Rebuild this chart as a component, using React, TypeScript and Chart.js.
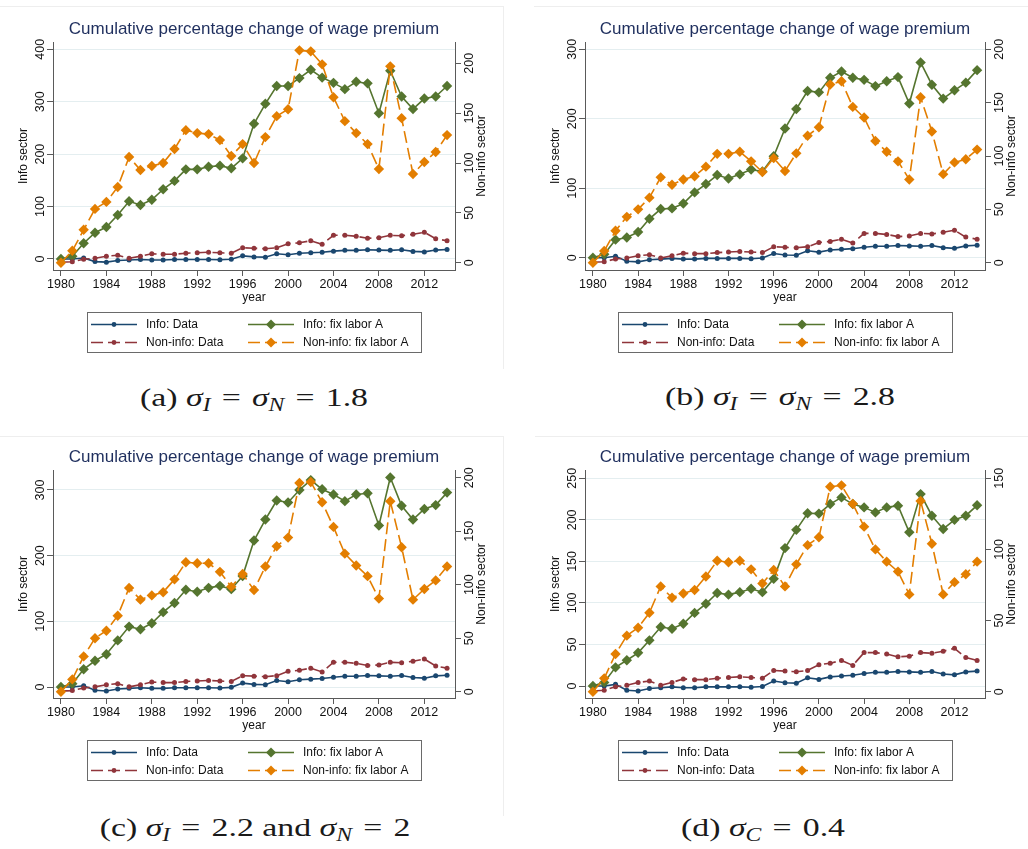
import React, { useEffect, useRef } from 'react';
import { Chart, registerables } from 'chart.js';

Chart.register(...registerables);

// ---------- data ----------
const years = [
  1980, 1981, 1982, 1983, 1984, 1985, 1986, 1987, 1988, 1989,
  1990, 1991, 1992, 1993, 1994, 1995, 1996, 1997, 1998, 1999,
  2000, 2001, 2002, 2003, 2004, 2005, 2006, 2007, 2008, 2009,
  2010, 2011, 2012, 2013, 2014,
];
const xTicks = [1980, 1984, 1988, 1992, 1996, 2000, 2004, 2008, 2012];

const infoData = [0, 0, 2, -5, -6, -3, -2, -1, -2, -2, -1, -1, -1, -1, -1.5, -0.5, 6, 4, 3.5, 10, 8, 11, 12, 13, 15, 16.5, 16.5, 17.5, 17, 16.5, 17.5, 14.5, 13.5, 17, 18];
const nonInfoData = [0.5, 1, 3.5, 4.5, 6.5, 7.5, 4.5, 6.5, 9, 8.5, 8.5, 9.5, 10, 10.5, 10, 9.5, 15, 14.5, 14, 15, 19, 20, 22, 18.5, 27.5, 27.5, 26.5, 24.5, 25, 27.5, 27, 28.5, 30.5, 24, 22];

const infoFixA_a = [0, 5, 30, 50, 61, 84, 110, 103, 113, 133, 149, 171, 171, 176, 178, 173, 192, 258, 296, 330, 330, 345, 361, 346, 336, 324, 338, 335, 278, 359, 310, 286, 306, 310, 330];
const nonInfoFixA_a = [0, 12, 33, 54, 61, 76, 106, 93, 97, 100, 114, 133, 130, 129, 123, 107, 119, 100, 126, 147, 154, 213, 212, 199, 166, 142, 130, 119, 94, 197, 145, 89, 101, 111, 128];

const infoFixA_b = [0, 5, 26, 29, 37, 56, 70, 71, 78, 94, 106, 119, 114, 120, 127, 124, 146, 186, 214, 240, 238, 259, 268, 259, 256, 247, 254, 260, 222, 281, 249, 229, 241, 252, 270];
const nonInfoFixA_b = [0, 11, 30, 43, 50, 61, 80, 73, 78, 81, 90, 102, 102, 104, 95, 85, 98, 86, 102.5, 119, 127, 167, 170, 146, 136, 114, 104, 95, 78, 155, 123, 83, 94, 97, 106];

const infoFixA_c = [0, 5, 27, 40, 50, 71, 92, 88, 97, 114, 128, 148, 145, 151, 154, 149, 169, 223, 255, 284, 281, 300, 315, 301, 293, 283, 293, 295, 246, 319, 276, 255, 271, 277, 296];
const nonInfoFixA_c = [0, 11.5, 33, 50, 57, 71, 97, 86, 90, 93, 105, 121, 120, 120, 112, 98, 110, 95, 117, 136, 144, 195, 196, 177, 154, 129, 118, 108, 87, 178, 135, 86, 96, 104, 117];

const infoFixA_d = [0, 4.4, 22.5, 31, 40, 55, 71, 69, 75, 88, 99, 112, 110, 113, 117, 113, 129, 166, 188, 208, 207.5, 219, 227, 219, 215, 209, 215, 217, 185, 231, 205, 189, 200, 205, 217.5];
const nonInfoFixA_d = [0, 9.4, 26.5, 39.4, 45, 55.5, 74, 66, 69, 71.5, 81, 92, 91, 92, 86, 76, 85.5, 74, 89.5, 103, 108.5, 144, 145, 132, 116, 100, 91.4, 84.4, 68.4, 134, 104, 68.4, 77, 82.5, 91.4];

const leftTicks_a = [0, 100, 200, 300, 400];
const rightTicks_a = [0, 50, 100, 150, 200];
const leftTicks_b = [0, 100, 200, 300];
const rightTicks_b = [0, 50, 100, 150, 200];
const leftTicks_c = [0, 100, 200, 300];
const rightTicks_c = [0, 50, 100, 150, 200];
const leftTicks_d = [0, 50, 100, 150, 200, 250];
const rightTicks_d = [0, 50, 100, 150];

const seriesLabels = ['Info: Data', 'Info: fix labor A', 'Non-info: Data', 'Non-info: fix labor A'];
const titleText = 'Cumulative percentage change of wage premium';
const leftTitle = 'Info sector';
const rightTitle = 'Non-info sector';
const xTitle = 'year';

// ---------- styles ----------
const SANS = '"Liberation Sans", Arial, sans-serif';
const BLUE = '#1a476f';
const RED = '#90353b';
const GREEN = '#55752f';
const ORANGE = '#e37e00';
const AXIS = '#5a5a5a';
const GRID = '#e4eef0';
const DASH = [12, 5];

type PanelProps = {
  left: number;
  top: number;
  plotLeft: number;
  plotRight: number;
  fixInfo: number[];
  fixNonInfo: number[];
  leftRange: [number, number];
  rightRange: [number, number];
  leftTicks: number[];
  rightTicks: number[];
};

const W = 514;
const H = 370;
const PLOT_TOP = 42;
const PLOT_BOTTOM = 270;
const XAXIS_H = 20;

function toPts(vals: number[]) {
  return years.map((y, i) => ({ x: y, y: vals[i] }));
}

function Panel(p: PanelProps) {
  const ref = useRef<HTMLCanvasElement | null>(null);
  useEffect(() => {
    const canvas = ref.current;
    if (!canvas) return;

    const overlay = {
      id: 'overlay',
      afterDraw(chart: any) {
        const ctx = chart.ctx as CanvasRenderingContext2D;
        const ca = chart.chartArea;
        const cx = (ca.left + ca.right) / 2;
        ctx.save();
        // title
        ctx.fillStyle = '#1f2f5e';
        ctx.font = `17px ${SANS}`;
        ctx.textAlign = 'center';
        ctx.textBaseline = 'middle';
        ctx.fillText(titleText, cx, 29.5);

        // y tick labels (rotated)
        ctx.fillStyle = '#111';
        ctx.font = `12.5px ${SANS}`;
        const yl = chart.scales.yL;
        const yr = chart.scales.yR;
        for (const t of yl.ticks) {
          const y = yl.getPixelForValue(t.value);
          ctx.save();
          ctx.translate(ca.left - 12.5, y);
          ctx.rotate(-Math.PI / 2);
          ctx.fillText(String(t.value), 0, 0);
          ctx.restore();
        }
        for (const t of yr.ticks) {
          const y = yr.getPixelForValue(t.value);
          ctx.save();
          ctx.translate(ca.right + 15, y);
          ctx.rotate(-Math.PI / 2);
          ctx.fillText(String(t.value), 0, 0);
          ctx.restore();
        }
        // axis titles
        ctx.font = `12px ${SANS}`;
        const cy = (ca.top + ca.bottom) / 2;
        ctx.save();
        ctx.translate(ca.left - 29, cy);
        ctx.rotate(-Math.PI / 2);
        ctx.fillText(leftTitle, 0, 0);
        ctx.restore();
        ctx.save();
        ctx.translate(ca.right + 27, cy);
        ctx.rotate(-Math.PI / 2);
        ctx.fillText(rightTitle, 0, 0);
        ctx.restore();
        ctx.fillText(xTitle, cx, 297.5);

        // legend
        const bw = 334;
        const bh = 40;
        const bx = Math.round(cx - bw / 2);
        const by = 312;
        ctx.fillStyle = '#fff';
        ctx.fillRect(bx, by, bw, bh);
        ctx.strokeStyle = '#6a6a6a';
        ctx.lineWidth = 1;
        ctx.strokeRect(bx + 0.5, by + 0.5, bw, bh);
        const items = [
          { label: seriesLabels[0], color: BLUE, dash: [] as number[], diamond: false, col: 0, row: 0 },
          { label: seriesLabels[1], color: GREEN, dash: [] as number[], diamond: true, col: 1, row: 0 },
          { label: seriesLabels[2], color: RED, dash: DASH, diamond: false, col: 0, row: 1 },
          { label: seriesLabels[3], color: ORANGE, dash: DASH, diamond: true, col: 1, row: 1 },
        ];
        ctx.textAlign = 'left';
        ctx.font = `12px ${SANS}`;
        for (const it of items) {
          const x0 = bx + (it.col === 0 ? 4 : 161);
          const x1 = x0 + 46;
          const y = by + (it.row === 0 ? 12.5 : 30.5);
          ctx.strokeStyle = it.color;
          ctx.lineWidth = 1.6;
          ctx.setLineDash(it.dash);
          ctx.beginPath();
          ctx.moveTo(x0, y);
          ctx.lineTo(x1, y);
          ctx.stroke();
          ctx.setLineDash([]);
          const mx = (x0 + x1) / 2;
          ctx.fillStyle = it.color;
          ctx.beginPath();
          if (it.diamond) {
            const r = 5;
            ctx.moveTo(mx, y - r);
            ctx.lineTo(mx + r, y);
            ctx.lineTo(mx, y + r);
            ctx.lineTo(mx - r, y);
            ctx.closePath();
          } else {
            ctx.arc(mx, y, 2.4, 0, Math.PI * 2);
          }
          ctx.fill();
          ctx.fillStyle = '#111';
          ctx.fillText(it.label, x0 + 55, y + 0.5);
        }
        ctx.restore();
      },
    };

    const lineDs = (label: string, vals: number[], color: string, axis: string, dashed: boolean, diamond: boolean, order: number) => ({
      label,
      data: toPts(vals),
      yAxisID: axis,
      borderColor: color,
      backgroundColor: color,
      borderWidth: 1.6,
      borderDash: dashed ? DASH : [],
      pointStyle: diamond ? 'rectRot' : 'circle',
      pointRadius: diamond ? 5.2 : 2.5,
      pointBorderWidth: 0,
      pointBackgroundColor: color,
      pointBorderColor: color,
      tension: 0,
      clip: false as any,
      order,
    });

    const chart = new Chart(canvas, {
      type: 'line',
      data: {
        datasets: [
          lineDs(seriesLabels[0], infoData, BLUE, 'yL', false, false, 3),
          lineDs(seriesLabels[1], p.fixInfo, GREEN, 'yL', false, true, 2),
          lineDs(seriesLabels[2], nonInfoData, RED, 'yR', true, false, 1),
          lineDs(seriesLabels[3], p.fixNonInfo, ORANGE, 'yR', true, true, 0),
        ],
      },
      options: {
        animation: false,
        responsive: false,
        maintainAspectRatio: false,
        devicePixelRatio: 1,
        layout: { padding: { top: PLOT_TOP, bottom: H - PLOT_BOTTOM - XAXIS_H, left: 0, right: 0 } },
        plugins: {
          legend: { display: false },
          title: { display: false },
          tooltip: { enabled: false },
        },
        scales: {
          x: {
            type: 'linear',
            min: 1979.3,
            max: 2014.7,
            afterBuildTicks: (s: any) => {
              s.ticks = xTicks.map((v) => ({ value: v }));
            },
            afterFit: (s: any) => {
              s.height = XAXIS_H;
            },
            grid: { drawOnChartArea: false, drawTicks: true, tickLength: 6, tickColor: AXIS, tickWidth: 1 },
            border: { display: true, color: AXIS, width: 1 },
            ticks: {
              color: '#111',
              font: { family: SANS, size: 12.5 },
              padding: 1,
              maxRotation: 0,
              autoSkip: false,
              callback: (v: any) => String(v),
            },
          },
          yL: {
            type: 'linear',
            position: 'left',
            min: p.leftRange[0],
            max: p.leftRange[1],
            afterBuildTicks: (s: any) => {
              s.ticks = p.leftTicks.map((v) => ({ value: v }));
            },
            afterFit: (s: any) => {
              s.width = p.plotLeft;
            },
            grid: { color: GRID, lineWidth: 1, drawTicks: true, tickLength: 6, tickColor: AXIS, tickWidth: 1 },
            border: { display: true, color: AXIS, width: 1 },
            ticks: { display: false },
          },
          yR: {
            type: 'linear',
            position: 'right',
            min: p.rightRange[0],
            max: p.rightRange[1],
            afterBuildTicks: (s: any) => {
              s.ticks = p.rightTicks.map((v) => ({ value: v }));
            },
            afterFit: (s: any) => {
              s.width = W - p.plotRight;
            },
            grid: { drawOnChartArea: false, drawTicks: true, tickLength: 6, tickColor: AXIS, tickWidth: 1 },
            border: { display: true, color: AXIS, width: 1 },
            ticks: { display: false },
          },
        },
      } as any,
      plugins: [overlay],
    });
    return () => chart.destroy();
  }, []);
  return (
    <canvas
      ref={ref}
      width={W}
      height={H}
      style={{ position: 'absolute', left: p.left, top: p.top, width: W, height: H }}
    />
  );
}

function Caption({ cx, cy, children, sx }: { cx: number; cy: number; children: any; sx: number }) {
  return (
    <div
      style={{
        position: 'absolute',
        left: cx - 250,
        top: cy - 20,
        width: 500,
        height: 40,
        lineHeight: '40px',
        textAlign: 'center',
        fontFamily: '"Liberation Serif", "DejaVu Serif", serif',
        fontSize: 26,
        color: '#1a1a1a',
        whiteSpace: 'nowrap',
        transform: `scaleX(${sx})`,
      }}
    >
      {children}
    </div>
  );
}

const Sig = ({ sub }: { sub: string }) => (
  <span>
    <i>σ</i>
    <i style={{ fontSize: '0.7em', position: 'relative', top: '0.3em' }}>{sub}</i>
  </span>
);
const Eq = () => <span style={{ margin: '0 0.33em' }}>=</span>;

const Faint = ({ l, t, w, h }: { l: number; t: number; w: number; h: number }) => (
  <div style={{ position: 'absolute', left: l, top: t, width: w, height: h, background: '#eeeeee' }} />
);

export default function App() {
  return (
    <div style={{ position: 'absolute', left: 0, top: 0, width: 1028, height: 849, background: '#fff', overflow: 'hidden' }}>
      <Faint l={0} t={6} w={503} h={1} />
      <Faint l={503} t={6} w={1} h={363} />
      <Faint l={534} t={6} w={494} h={1} />
      <Faint l={0} t={436} w={503} h={1} />
      <Faint l={503} t={436} w={1} h={380} />
      <Faint l={535} t={436} w={493} h={1} />
      <Panel left={0} top={0} plotLeft={53} plotRight={455} fixInfo={infoFixA_a} fixNonInfo={nonInfoFixA_a}
        leftRange={[-21, 413.9]} rightRange={[-7.3, 221.4]} leftTicks={leftTicks_a} rightTicks={rightTicks_a} />
      <Panel left={514} top={0} plotLeft={71} plotRight={471} fixInfo={infoFixA_b} fixNonInfo={nonInfoFixA_b}
        leftRange={[-17.7, 310.5]} rightRange={[-6.8, 206.8]} leftTicks={leftTicks_b} rightTicks={rightTicks_b} />
      <Panel left={0} top={428} plotLeft={53} plotRight={455} fixInfo={infoFixA_c} fixNonInfo={nonInfoFixA_c}
        leftRange={[-16.7, 330.4]} rightRange={[-5.9, 207.2]} leftTicks={leftTicks_c} rightTicks={rightTicks_c} />
      <Panel left={514} top={428} plotLeft={71} plotRight={471} fixInfo={infoFixA_d} fixNonInfo={nonInfoFixA_d}
        leftRange={[-14.4, 260]} rightRange={[-4.4, 155.8]} leftTicks={leftTicks_d} rightTicks={rightTicks_d} />

      <Caption cx={254} cy={398} sx={1.3}>
        (a)&nbsp;<Sig sub="I" /><Eq /><Sig sub="N" /><Eq />1.8
      </Caption>
      <Caption cx={779.5} cy={397} sx={1.3}>
        (b)&nbsp;<Sig sub="I" /><Eq /><Sig sub="N" /><Eq />2.8
      </Caption>
      <Caption cx={255} cy={828} sx={1.3}>
        (c)&nbsp;<Sig sub="I" /><Eq />2.2 and <Sig sub="N" /><Eq />2
      </Caption>
      <Caption cx={762.5} cy={828} sx={1.3}>
        (d)&nbsp;<Sig sub="C" /><Eq />0.4
      </Caption>
    </div>
  );
}
